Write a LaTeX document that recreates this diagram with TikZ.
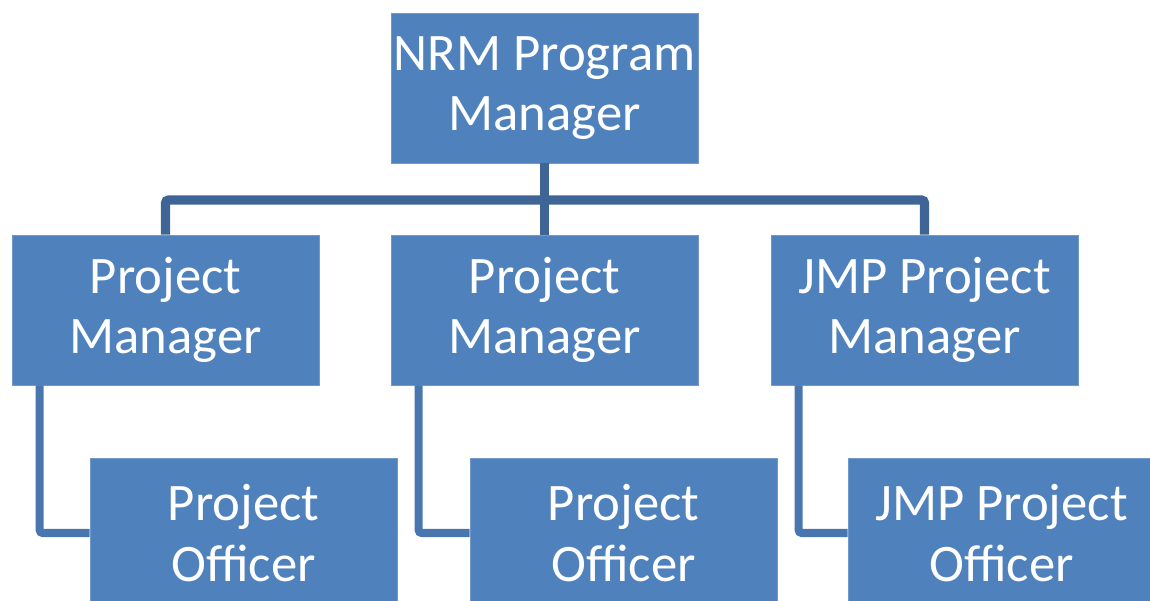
\documentclass[tikz,border=0pt]{standalone}
\usepackage{fontspec}
\setmainfont{Carlito}
\usetikzlibrary{calc}
\definecolor{BoxClr}{HTML}{4F81BD}
\definecolor{EdgeClr}{HTML}{7299CB}
\definecolor{BusClr}{HTML}{3F6596}
\definecolor{LinkClr}{HTML}{4A76AF}

\begin{document}
\begin{tikzpicture}[x=0.02cm,y=-0.02cm,
  unit/.style={draw=EdgeClr,line width=0.4pt,fill=BoxClr,text=white,minimum width=6.14cm,minimum height=3cm,align=center,inner sep=0pt,font=\fontsize{30}{34.5}\selectfont},
  bus/.style={draw=BusClr,line width=5.2pt,rounded corners=0.06cm},
  link/.style={draw=LinkClr,line width=4.6pt,rounded corners=0.06cm}]
\useasboundingbox (0,0) rectangle (1150,601);

\node[unit] (nrm) at (544.5,88) {NRM Program\\Manager};

\node[unit] (pm1) at (165.5,310) {Project\\Manager};
\node[unit] (pm2) at (544.5,310) {Project\\Manager};
\node[unit] (pm3) at (924.5,310) {JMP Project\\Manager};

\node[unit] (po1) at (243.5,533) {Project\\Officer};
\node[unit] (po2) at (623.5,533) {Project\\Officer};
\node[unit] (po3) at (1001.5,533) {JMP Project\\Officer};

\coordinate (hub) at (544.5,200);
\draw[bus] (nrm.south) -- (hub);
\draw[bus] (pm1.north) |- (hub) -| (pm3.north);
\draw[bus] (hub) -- (pm2.north);

\draw[link] ($(pm1.south west)+(28,0)$) |- (po1.west);
\draw[link] ($(pm2.south west)+(28,0)$) |- (po2.west);
\draw[link] ($(pm3.south west)+(28,0)$) |- (po3.west);

\end{tikzpicture}
\end{document}
